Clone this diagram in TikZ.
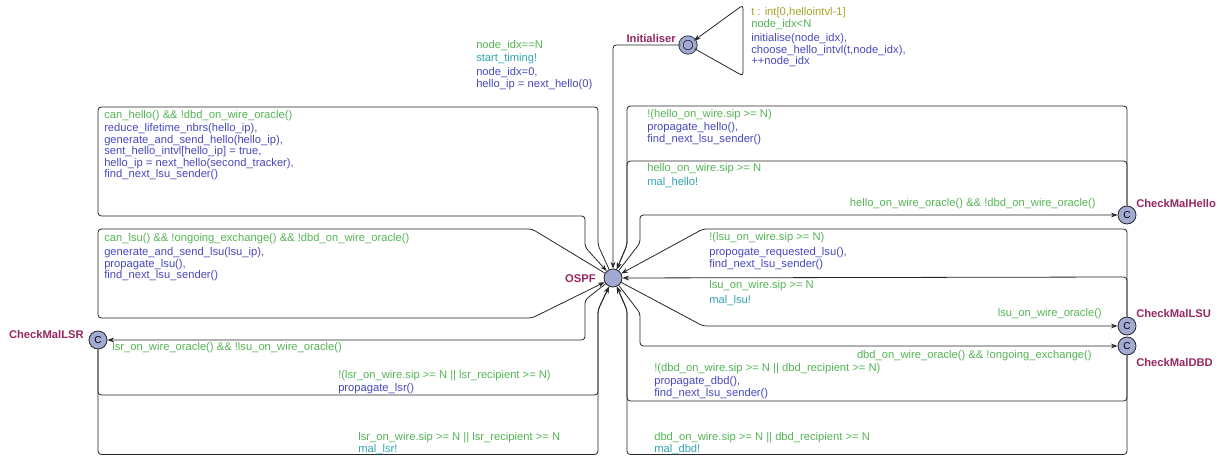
\documentclass[tikz,border=0pt]{standalone}
\usepackage{fontspec}
\setmainfont{Liberation Sans}
\usetikzlibrary{arrows.meta}

\definecolor{guardc}{RGB}{84,180,84}
\definecolor{assignc}{RGB}{72,72,190}
\definecolor{syncc}{RGB}{50,165,175}
\definecolor{selc}{RGB}{165,165,40}
\definecolor{namec}{RGB}{150,40,95}
\definecolor{locfill}{RGB}{160,170,210}
\newcommand\lblfont{\fontsize{8.4}{8.6}\selectfont}

\begin{document}
\begin{tikzpicture}[x=0.75pt,y=0.75pt,yscale=-1,xscale=1,
  loc/.style={circle,draw=black!85,line width=0.6pt,fill=locfill,minimum size=13.5pt,inner sep=0pt},
  comm/.style={loc,font=\fontsize{7.5}{7.5}\selectfont},
  lname/.style={inner sep=0pt,text=namec,font=\lblfont\bfseries},
  lbl/.style={inner sep=0pt,anchor=north west,align=left,font=\lblfont},
  edge/.style={draw=black!85,line width=0.6pt,rounded corners=2.5pt,-{Stealth[length=5pt,width=3.6pt]}}]
\useasboundingbox (0,0) rectangle (1225,456);

% Locations
\node [loc,double=locfill,double distance=2.6pt,minimum size=10.5pt] (init) at (688,45) {};
\node [loc] (ospf) at (613,278) {};
\node [comm] (chkhello) at (1127,215) {C};
\node [comm] (chklsu) at (1127,326) {C};
\node [comm] (chkdbd) at (1127,346) {C};
\node [comm] (chklsr) at (98,340) {C};

% Location names
\node [lname,anchor=east] (nInit) at (676,38) {Initialiser};
\node [lname,anchor=east] (nOspf) at (596,279) {OSPF};
\node [lname,anchor=west] (nHello) at (1136,203) {CheckMalHello};
\node [lname,anchor=west] (nLsu) at (1136,313) {CheckMalLSU};
\node [lname,anchor=west] (nDbd) at (1136,362) {CheckMalDBD};
\node [lname,anchor=east] (nLsr) at (84,334) {CheckMalLSR};

% Edges
\draw [edge] (init) -- (743,76) -- (743,5) -- (init);
\draw [edge] (init) -- (613,45) -- (ospf);
\draw [edge] (ospf) -- (598,245) -- (598,107) -- (98,107) -- (98,216) -- (585,216) -- (585,247) -- (ospf);
\draw [edge] (ospf) -- (532,229) -- (98,229) -- (98,318) -- (532,318) -- (ospf);
\draw [edge] (ospf) -- (585,300) -- (585,340) -- (chklsr);
\draw [edge] (chklsr) -- (98,395) -- (598,395) -- (598,310) -- (ospf);
\draw [edge] (chklsr) -- (98,454.5) -- (598,454.5) -- (598,310) -- (ospf);
\draw [edge] (ospf) -- (640,243) -- (640,215) -- (chkhello);
\draw [edge] (chkhello) -- (1127,161) -- (627,161) -- (627,245) -- (ospf);
\draw [edge] (chkhello) -- (1127,106) -- (627,106) -- (627,245) -- (ospf);
\draw [edge] (ospf) -- (703,326) -- (chklsu);
\draw [edge] (chklsu) -- (1127,229) -- (703,229) -- (ospf);
\draw [edge] (chklsu) -- (1127,277) -- (ospf);
\draw [edge] (ospf) -- (640,313) -- (640,346) -- (chkdbd);
\draw [edge] (chkdbd) -- (1127,401) -- (627,401) -- (627,310) -- (ospf);
\draw [edge] (chkdbd) -- (1127,454.5) -- (627,454.5) -- (627,310) -- (ospf);

% Labels Initialiser
\node [lbl,text=selc] (sInit) at (751,7.5) {t : int[0,hellointvl-1]};
\node [lbl,text=guardc] (gInit) at (751,19.5) {node\_idx<N};
\node [lbl,text=assignc] (aInit) at (751,33.5) {initialise(node\_idx),\\choose\_hello\_intvl(t,node\_idx),\\++node\_idx};
\node [lbl,text=guardc] (gStart) at (476,40.5) {node\_idx==N};
\node [lbl,text=syncc] (sStart) at (476,53.5) {start\_timing!};
\node [lbl,text=assignc] (aStart) at (476,67.5) {node\_idx=0,\\hello\_ip = next\_hello(0)};

% Labels OSPF loops
\node [lbl,text=guardc] (gHello) at (104,110.5) {can\_hello() \&\& !dbd\_on\_wire\_oracle()};
\node [lbl,text=assignc] (aHello) at (104,123.5) {reduce\_lifetime\_nbrs(hello\_ip),\\generate\_and\_send\_hello(hello\_ip),\\sent\_hello\_intvl[hello\_ip] = true,\\hello\_ip = next\_hello(second\_tracker),\\find\_next\_lsu\_sender()};
\node [lbl,text=guardc] (gLsu) at (104,233.5) {can\_lsu() \&\& !ongoing\_exchange() \&\& !dbd\_on\_wire\_oracle()};
\node [lbl,text=assignc] (aLsu) at (104,247.5) {generate\_and\_send\_lsu(lsu\_ip),\\propagate\_lsu(),\\find\_next\_lsu\_sender()};

% Labels CheckMalLSR
\node [lbl,text=guardc] (gToLsr) at (112,342.5) {lsr\_on\_wire\_oracle() \&\& !lsu\_on\_wire\_oracle()};
\node [lbl,text=guardc] (gLsrOk) at (338,370.5) {!(lsr\_on\_wire.sip >= N || lsr\_recipient >= N)};
\node [lbl,text=assignc] (aLsrOk) at (338,383.5) {propagate\_lsr()};
\node [lbl,text=guardc] (gLsrBad) at (358,432.5) {lsr\_on\_wire.sip >= N || lsr\_recipient >= N};
\node [lbl,text=syncc] (sLsrBad) at (358,444.5) {mal\_lsr!};

% Labels CheckMalHello
\node [lbl,text=guardc] (gHelloOk) at (647,109.5) {!(hello\_on\_wire.sip >= N)};
\node [lbl,text=assignc] (aHelloOk) at (647,122.5) {propagate\_hello(),\\find\_next\_lsu\_sender()};
\node [lbl,text=guardc] (gHelloBad) at (647,163.5) {hello\_on\_wire.sip >= N};
\node [lbl,text=syncc] (sHelloBad) at (647,177.5) {mal\_hello!};
\node [lbl,text=guardc,anchor=north east] (gToHello) at (1096,198.5) {hello\_on\_wire\_oracle() \&\& !dbd\_on\_wire\_oracle()};

% Labels CheckMalLSU
\node [lbl,text=guardc] (gLsuOk) at (709,232.5) {!(lsu\_on\_wire.sip >= N)};
\node [lbl,text=assignc] (aLsuOk) at (709,247.5) {propogate\_requested\_lsu(),\\find\_next\_lsu\_sender()};
\node [lbl,text=guardc] (gLsuBad) at (709,280.5) {lsu\_on\_wire.sip >= N};
\node [lbl,text=syncc] (sLsuBad) at (709,295.5) {mal\_lsu!};
\node [lbl,text=guardc,anchor=north east] (gToLsu) at (1102,308.5) {lsu\_on\_wire\_oracle()};

% Labels CheckMalDBD
\node [lbl,text=guardc,anchor=north east] (gToDbd) at (1092,350.5) {dbd\_on\_wire\_oracle() \&\& !ongoing\_exchange()};
\node [lbl,text=guardc] (gDbdOk) at (654,363.5) {!(dbd\_on\_wire.sip >= N || dbd\_recipient >= N)};
\node [lbl,text=assignc] (aDbdOk) at (654,376.5) {propagate\_dbd(),\\find\_next\_lsu\_sender()};
\node [lbl,text=guardc] (gDbdBad) at (654,432.5) {dbd\_on\_wire.sip >= N || dbd\_recipient >= N};
\node [lbl,text=syncc] (sDbdBad) at (654,444.5) {mal\_dbd!};

\end{tikzpicture}
\end{document}
